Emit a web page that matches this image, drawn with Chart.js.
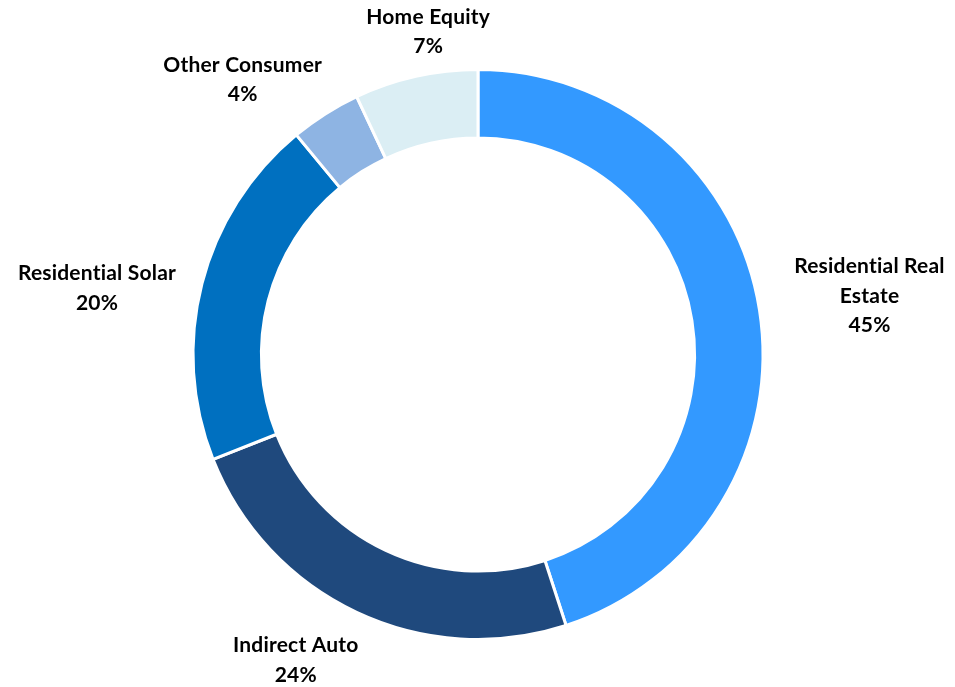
<!DOCTYPE html>
<html>
<head>
<meta charset="utf-8">
<script src="https://cdn.jsdelivr.net/npm/chart.js@4.4.0/dist/chart.umd.min.js"></script>
<style>
  html, body { margin: 0; padding: 0; background: #fff; }
  #wrap { width: 955px; height: 687px; }
</style>
</head>
<body>
<div id="wrap"><canvas id="myChart" width="955" height="687"></canvas></div>
<script>
// loan mix, clockwise from 12 o'clock
var categories = ['Residential Real Estate', 'Indirect Auto', 'Residential Solar', 'Other Consumer', 'Home Equity'];
var labelLines = [['Residential Real', 'Estate'], ['Indirect Auto'], ['Residential Solar'], ['Other Consumer'], ['Home Equity']];
var shares = [45, 24, 20, 4, 7];
var sliceColors = ['#3399FF', '#1F497D', '#0070C0', '#8EB4E3', '#DBEEF4'];

// gap between ring edge and label box, plus small hand nudges
var labelPad = [32, 31, 20, 30, 10];
var labelNudge = [[4, -2], [-21, -7], [-9, 17], [-24, 16], [28, -6]];
var fontFamily = 'Lato, "Open Sans", sans-serif';

// draws the category + percent labels just outside each slice
var outsideLabels = {
    id: 'outsideLabels',
    afterDatasetsDraw: function(chart) {
        var ctx = chart.ctx;
        var meta = chart.getDatasetMeta(0);
        var total = shares.reduce(function(a, b) { return a + b; }, 0);
        ctx.save();
        ctx.font = 'bold 21px ' + fontFamily;
        ctx.letterSpacing = '0.2px';
        ctx.fillStyle = '#000';
        ctx.textAlign = 'center';
        ctx.textBaseline = 'middle';
        var lineH = 29.5;
        meta.data.forEach(function(arc, i) {
            var mid = (arc.startAngle + arc.endAngle) / 2;
            var r = arc.outerRadius + labelPad[i];
            var px = arc.x + Math.cos(mid) * r;
            var py = arc.y + Math.sin(mid) * r;
            var lines = labelLines[i].concat([Math.round(shares[i] / total * 100) + '%']);
            var w = 0;
            lines.forEach(function(l) { w = Math.max(w, ctx.measureText(l).width); });
            var h = lines.length * lineH;
            var cx = px + Math.cos(mid) * w / 2 + labelNudge[i][0];
            var cy = py + Math.sin(mid) * h / 2 + labelNudge[i][1];
            lines.forEach(function(l, j) {
                ctx.fillText(l, cx, cy - h / 2 + lineH * (j + 0.5));
            });
        });
        ctx.restore();
    }
};

const ctx = document.getElementById('myChart').getContext('2d');
const myChart = new Chart(ctx, {
    type: 'doughnut',
    data: {
        labels: categories,
        datasets: [{
            data: shares,
            backgroundColor: sliceColors,
            borderColor: '#ffffff',
            borderWidth: 3
        }]
    },
    options: {
        responsive: false,
        animation: false,
        cutout: '76%',
        layout: {
            padding: { top: 68, bottom: 46, left: 191, right: 190 }
        },
        plugins: {
            legend: { display: false },
            tooltip: { enabled: false }
        }
    },
    plugins: [outsideLabels]
});
</script>
</body>
</html>
